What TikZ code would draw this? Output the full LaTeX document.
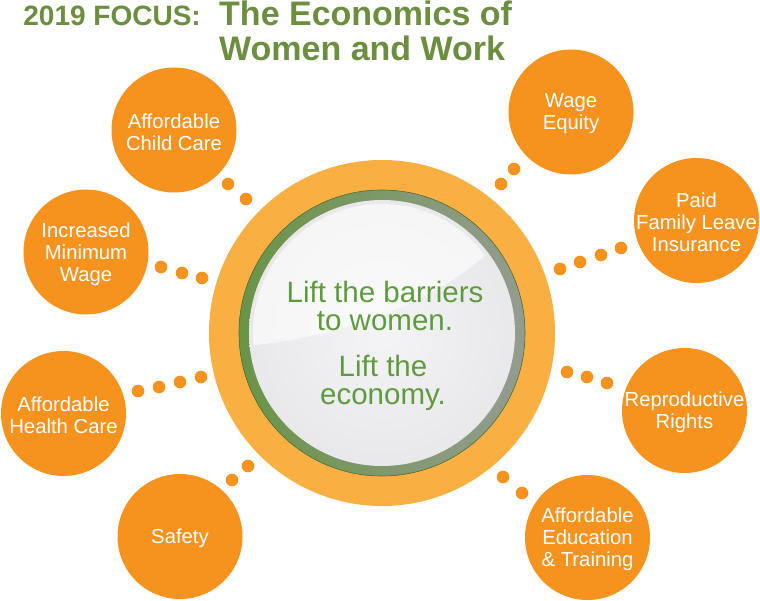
\documentclass[tikz,border=0pt]{standalone}
\usepackage{fontspec}
\setmainfont{Liberation Sans}
\definecolor{titlegreen}{HTML}{6B8E3F}
\definecolor{topicorange}{HTML}{F6921E}
\definecolor{ringorange}{HTML}{FAAF42}
\definecolor{ringgreen}{HTML}{6A9447}
\definecolor{ringgray}{HTML}{949C90}
\definecolor{msggreen}{HTML}{5E9B3F}
\definecolor{ballA}{HTML}{F4F4F6}
\definecolor{ballB}{HTML}{E6E6E8}
\definecolor{ballC}{HTML}{D2D2D4}
\definecolor{ballD}{HTML}{B2B2B2}
\definecolor{ballE}{HTML}{8E8E8E}
\pgfdeclareradialshading{ballshade}{\pgfpoint{0bp}{0bp}}{color(0bp)=(ballA); color(30bp)=(ballB); color(42bp)=(ballC); color(47bp)=(ballD); color(50bp)=(ballE)}
\begin{document}
\begin{tikzpicture}[x=1pt,y=-1pt,
  topic/.style={circle, fill=topicorange, minimum size=125pt, inner sep=0pt},
  topictext/.style={text=white, align=center, inner sep=0pt, yshift=-2pt, font=\fontsize{20.3}{22}\selectfont},
  linkdot/.style={fill=topicorange},
  titletext/.style={text=titlegreen, inner sep=0pt},
  msg/.style={text=msggreen, align=center, inner sep=0pt, font=\fontsize{29.5}{28}\selectfont}]
\useasboundingbox (0,0) rectangle (760,601);
\fill[white] (0,0) rectangle (760,601);
% title
\node[titletext, anchor=base east, font=\bfseries\fontsize{28}{30}\selectfont] (year) at (201,26) {2019 FOCUS:};
\node[titletext, anchor=base west, font=\bfseries\fontsize{34}{35}\selectfont] (title1) at (219,26) {The Economics of};
\node[titletext, anchor=base west, font=\bfseries\fontsize{34}{35}\selectfont] (title2) at (219,61) {Women and Work};
% hub
\node[circle, minimum size=346pt, fill=ringorange, inner sep=0pt] (hub) at (382,333) {};
\fill[left color=ringgreen, right color=ringgray] (hub.center) circle (143);
\draw[ringgreen!80!black, line width=0.6pt] (hub.center) circle (143);
\shade[shading=ballshade] (hub.center) circle (133);
\begin{scope}
  \clip (hub.center) circle (129);
  \fill[white, opacity=0.6] (245,346) .. controls (340,338) and (450,300) .. (505,235) -- (525,170) -- (240,170) -- cycle;
\end{scope}
\node[msg] (msg1) at (385,306) {Lift the barriers\\to women.};
\node[msg] (msg2) at (383,383) {Lift the\\economy.};
% topics
\node[topic, label={[topictext]center:{Affordable\\Child Care}}] (childcare) at (174,130) {};
\node[topic, label={[topictext]center:{Increased\\Minimum\\Wage}}] (minwage) at (86,252) {};
\node[topic, label={[topictext]center:{Affordable\\Health Care}}] (health) at (63.5,413.5) {};
\node[topic, label={[topictext]center:{Safety}}] (safety) at (180,536.5) {};
\node[topic, label={[topictext]center:{Wage\\Equity}}] (wage) at (571,112) {};
\node[topic, label={[topictext]center:{Paid\\Family Leave\\Insurance}}] (leave) at (696.5,220.5) {};
\node[topic, label={[topictext]center:{Reproductive\\Rights}}] (repro) at (684.5,410.5) {};
\node[topic, label={[topictext]center:{Affordable\\Education\\\& Training}}] (edu) at (587.5,537.5) {};
% dotted links
\foreach \p in {(228,184),(246,199),
                (161,267),(182,273),(202,278),
                (138,391),(159,387),(180,382),(201,377),
                (232,480),(248,466),
                (514,169),(501,184),
                (621,248),(601,255),(580,262),(560,269),
                (567,372),(587,377),(607,383),
                (503,477),(522,493)}
  \fill[linkdot] \p circle (6.3);
\end{tikzpicture}
\end{document}
